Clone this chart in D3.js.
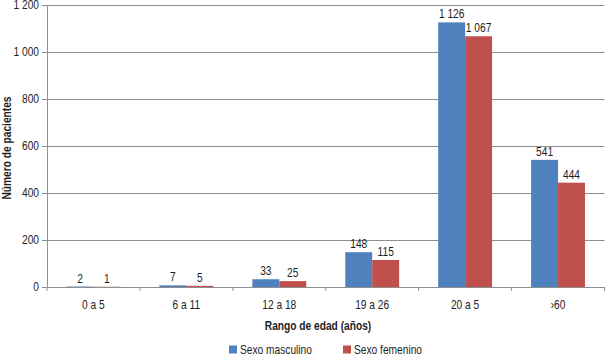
<!DOCTYPE html>
<html>
<head>
<meta charset="utf-8">
<script src="https://cdn.jsdelivr.net/npm/d3@7"></script>
<style>
	body { margin: 0; background: #fff; }
	svg text { font-family: "Liberation Sans", Arial, sans-serif; fill: #1e1e1e; font-size: 12px; }
	.grid line { stroke: #8e8e8e; stroke-width: 1; }
	.grid path { display: none; }
	.axis path, .axis line { stroke: #8e8e8e; }
	.title { font-weight: bold; }
</style>
</head>
<body>
<div id="chart"></div>
<script>
let categories	= ["0 a 5", "6 a 11", "12 a 18", "19 a 26", "20 a 5", "›60"];
let series		= ["Sexo masculino", "Sexo femenino"];
let masculino	= [2, 7, 33, 148, 1126, 541];
let femenino	= [1, 5, 25, 115, 1067, 444];
let yTicks		= [0, 200, 400, 600, 800, 1000, 1200];
let colors		= ["#4f81bd", "#c0504d"];

let canvasWidth		= 605;
let canvasHeight	= 355;
let margin			= { top: 5, right: 0.5, bottom: 68, left: 47 };
let width			= canvasWidth - margin.left - margin.right;
let height			= canvasHeight - margin.top - margin.bottom;
let squeeze			= 0.85;	// the original uses a condensed face

let fmt		= (v) => d3.format(",")(v).replace(/,/g, " ");
let data	= categories.map((c, i) => ({ cat: c, values: [masculino[i], femenino[i]] }));

// move x/y into a transform so the glyphs can be narrowed in place
function narrow(sel, rot) {
	sel.each(function() {
		let t	= d3.select(this);
		let tx	= +t.attr("x") || 0;
		let ty	= +t.attr("y") || 0;
		t.attr("x", 0).attr("y", 0)
			.attr("transform", "translate(" + tx + "," + ty + ")" + (rot ? " rotate(" + rot + ")" : "") + " scale(" + squeeze + ",1)");
	});
}

let x		= d3.scaleBand().range([0, width]).domain(categories);
let xs		= d3.scaleBand().domain(series).range([x.bandwidth() * 0.21, x.bandwidth() * 0.79]);
let y		= d3.scaleLinear().range([height, 0]).domain([0, 1200]);

let svg = d3.select("#chart").append("svg")
	.attr("width", canvasWidth)
	.attr("height", canvasHeight)
	.append("g")
	.attr("transform", "translate(" + margin.left + "," + margin.top + ")");

svg.append("g")
	.attr("class", "grid")
	.call(d3.axisLeft(y).tickValues(yTicks.slice(1)).tickSize(-width).tickFormat(""));

// y axis
let yAxis = svg.append("g")
	.attr("class", "axis y")
	.call(d3.axisLeft(y).tickValues(yTicks).tickSize(5).tickSizeOuter(0).tickFormat(fmt));
yAxis.selectAll("text").attr("x", -8).call(narrow);

// x axis, ticks at the category boundaries
let xAxis = svg.append("g")
	.attr("class", "axis x")
	.attr("transform", "translate(0," + height + ")")
	.call(d3.axisBottom(x).tickSize(0).tickSizeOuter(0));
xAxis.selectAll("text").attr("y", 13).call(narrow);
xAxis.selectAll(".bound")
	.data(categories.concat([null]))
	.enter().append("line")
		.attr("class", "bound")
		.attr("x1", (o, i) => i * x.step())
		.attr("x2", (o, i) => i * x.step())
		.attr("y1", 0)
		.attr("y2", 4);

let groups = svg.selectAll(".group")
	.data(data)
	.enter().append("g")
		.attr("class", "group")
		.attr("transform", (o) => "translate(" + x(o.cat) + ",0)");

groups.selectAll("rect")
	.data((o) => o.values.map((v, i) => ({ s: series[i], v: v, c: colors[i] })))
	.enter().append("rect")
		.attr("x", (o) => xs(o.s))
		.attr("width", xs.bandwidth())
		.attr("y", (o) => y(o.v))
		.attr("height", (o) => height - y(o.v))
		.attr("fill", (o) => o.c);

groups.selectAll(".label")
	.data((o) => o.values.map((v, i) => ({ s: series[i], v: v })))
	.enter().append("text")
		.attr("class", "label")
		.attr("x", (o) => xs(o.s) + xs.bandwidth() / 2)
		.attr("y", (o) => y(o.v) - 4)
		.attr("text-anchor", "middle")
		.text((o) => fmt(o.v))
		.call(narrow);

// axis titles
svg.append("text")
	.attr("class", "title")
	.attr("x", 11 - margin.left)
	.attr("y", height / 2 + 2)
	.attr("text-anchor", "middle")
	.text("Número de pacientes")
	.call(narrow, -90);

svg.append("text")
	.attr("class", "title")
	.attr("x", 271)
	.attr("y", height + 43)
	.attr("text-anchor", "middle")
	.text("Rango de edad (años)")
	.call(narrow);

// legend
let legend = svg.selectAll(".legend")
	.data(series)
	.enter().append("g")
		.attr("class", "legend")
		.attr("transform", (o, i) => "translate(" + (182 + i * 114) + "," + (height + 58.5) + ")");

legend.append("rect")
	.attr("width", 8)
	.attr("height", 8)
	.attr("fill", (o, i) => colors[i]);

legend.append("text")
	.attr("x", 11)
	.attr("y", 8.5)
	.text((o) => o)
	.call(narrow);
</script>
</body>
</html>
